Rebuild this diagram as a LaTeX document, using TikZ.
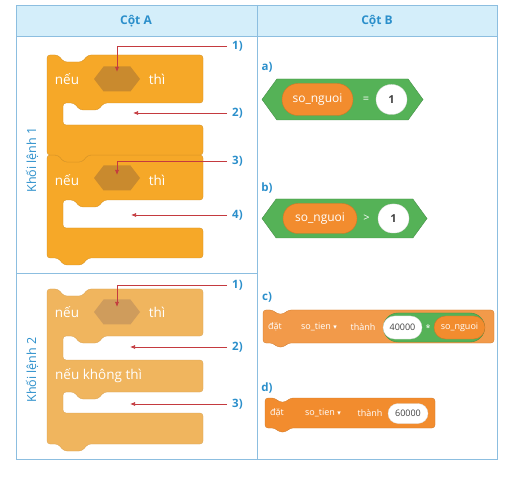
\documentclass[tikz,border=0pt]{standalone}
\usepackage{fontspec}
\setmainfont{Open Sans}
\newfontfamily\symfont{DejaVu Sans}
\usepackage{xcolor}
\usetikzlibrary{arrows.meta, positioning, shapes.symbols, shapes.misc}

\definecolor{hdrblue}{HTML}{D4EEFA}
\definecolor{lineblue}{HTML}{8CBEE0}
\definecolor{txtblue}{HTML}{2B8FCB}
\definecolor{ctrl}{HTML}{F6A828}
\definecolor{ctrlfade}{HTML}{F0B55E}
\definecolor{ctrldark}{HTML}{C98A2E}
\definecolor{ctrldarkfade}{HTML}{CF9C5C}
\definecolor{dataorg}{HTML}{F28C2E}
\definecolor{dataorgfade}{HTML}{F29A4A}
\definecolor{opgreen}{HTML}{55B257}
\definecolor{ptrred}{HTML}{C43A3F}

\tikzset{
  tableline/.style={draw=lineblue, line width=0.9pt},
  colhead/.style={font=\fontsize{12}{14}\selectfont\bfseries, text=txtblue},
  rowlabel/.style={font=\fontsize{12.5}{14}\selectfont, text=txtblue, rotate=90},
  numlabel/.style={font=\fontsize{11.5}{13}\selectfont\bfseries, text=txtblue,
                   anchor=west, inner xsep=5pt, inner ysep=1pt},
  optlabel/.style={font=\fontsize{11.5}{13}\selectfont\bfseries, text=txtblue, anchor=center},
  ctrlblock/.style={fill=ctrl, draw=ctrl!85!black, line width=0.3pt, rounded corners=3pt},
  datablock/.style={fill=dataorg, draw=dataorg!85!black, line width=0.3pt, rounded corners=3pt},
  blocktext/.style={font=\fontsize{13.5}{15}\selectfont, text=white, inner sep=0pt},
  smalltext/.style={font=\fontsize{9}{11}\selectfont, text=white, inner sep=0pt},
  condslot/.style={signal, signal to=east and west, signal pointer angle=105,
                   fill=ctrldark, minimum width=46pt, minimum height=25pt, inner sep=0pt},
  condhex/.style={signal, signal to=east and west, signal pointer angle=108,
                  fill=opgreen, draw=opgreen!80!black, line width=0.4pt, inner sep=0pt},
  varpill/.style={rounded rectangle, fill=dataorg, draw=dataorg!85!black, line width=0.4pt,
                  text=white, inner sep=0pt},
  numpill/.style={rounded rectangle, fill=white, draw=black!15, line width=0.3pt,
                  text=black!75, inner sep=0pt},
  pointer/.style={draw=ptrred, line width=0.75pt, -{Latex[length=5pt, width=4pt]}},
}

\begin{document}
\begin{tikzpicture}[x=1pt, y=-1pt]
  \useasboundingbox (0,0) rectangle (514,478);

  % Table
  \fill[hdrblue] (16,5) rectangle (497,36);
  \draw[tableline] (16,5) rectangle (497,459);
  \draw[tableline] (16,36) -- (497,36);
  \draw[tableline] (257,5) -- (257,459);
  \draw[tableline] (16,273) -- (257,273);
  \node[colhead] (colA) at (136,21) {Cột A};
  \node[colhead] (colB) at (377,21) {Cột B};
  \node[rowlabel] (rowA) at (32,160) {Khối lệnh 1};
  \node[rowlabel] (rowB) at (32,370) {Khối lệnh 2};

  % Khoi lenh 1: two stacked if blocks (lower one first)
  \draw[ctrlblock] (47,155) -- (58,155) -- (64,162) -- (82,162) -- (88,155) -- (203,155)
    -- (203,200) -- (104,200) -- (98,207) -- (80,207) -- (74,200) -- (63,200)
    -- (63,228) -- (203,228) -- (203,258) -- (88,258) -- (82,265) -- (64,265)
    -- (58,258) -- (47,258) -- cycle;
  \draw[ctrlblock] (47,55) -- (58,55) -- (64,62) -- (82,62) -- (88,55) -- (203,55)
    -- (203,103) -- (104,103) -- (98,110) -- (80,110) -- (74,103) -- (63,103)
    -- (63,125) -- (203,125) -- (203,155) -- (88,155) -- (82,162) -- (64,162)
    -- (58,155) -- (47,155) -- cycle;
  \node[condslot] (hexA) at (117,79) {};
  \node[blocktext] (ifA) at (67,79) {nếu};
  \node[blocktext] (thenA) at (157,79) {thì};
  \node[condslot] (hexB) at (117,178) {};
  \node[blocktext] (ifB) at (67,180) {nếu};
  \node[blocktext] (thenB) at (157,180) {thì};

  % Khoi lenh 2: if / else
  \draw[ctrlblock, fill=ctrlfade, draw=ctrlfade!90!black] (47,289) -- (58,289) -- (64,296)
    -- (82,296) -- (88,289) -- (203,289)
    -- (203,336) -- (104,336) -- (98,343) -- (80,343) -- (74,336) -- (63,336)
    -- (63,360) -- (203,360)
    -- (203,392) -- (104,392) -- (98,399) -- (80,399) -- (74,392) -- (63,392)
    -- (63,413) -- (203,413) -- (203,444) -- (88,444) -- (82,451) -- (64,451)
    -- (58,444) -- (47,444) -- cycle;
  \node[condslot, fill=ctrldarkfade] (hexC) at (117,312) {};
  \node[blocktext] (ifC) at (67,312) {nếu};
  \node[blocktext] (thenC) at (157,312) {thì};
  \node[blocktext, anchor=west] (elseC) at (55,376) {nếu không thì};

  % Pointers, Khoi lenh 1
  \node[numlabel] (p1) at (227,46) {1)};
  \node[numlabel] (p2) at (227,113) {2)};
  \node[numlabel] (p3) at (227,161) {3)};
  \node[numlabel] (p4) at (227,215) {4)};
  \coordinate (slotA) at (133,113);
  \coordinate (slotB) at (131,215);
  \draw[pointer] (p1.west) -| ([yshift=7pt]hexA.center);
  \draw[pointer] (p2.west) -- (slotA);
  \draw[pointer] (p3.west) -| ([yshift=3pt]hexB.center);
  \draw[pointer] (p4.west) -- (slotB);

  % Pointers, Khoi lenh 2
  \node[numlabel] (q1) at (227,285) {1)};
  \node[numlabel] (q2) at (227,347) {2)};
  \node[numlabel] (q3) at (227,404) {3)};
  \coordinate (slotC) at (130,347);
  \coordinate (slotD) at (130,404);
  \draw[pointer] (q1.west) -| ([yshift=5pt]hexC.center);
  \draw[pointer] (q2.west) -- (slotC);
  \draw[pointer] (q3.west) -- (slotD);

  % a)
  \node[optlabel] (optA) at (267,67) {a)};
  \node[condhex, minimum width=161pt, minimum height=41pt] (eqA) at (342.5,99.5) {};
  \node[varpill, minimum width=71pt, minimum height=32pt, blocktext, font=\fontsize{12}{14}\selectfont] (varA) at (317.5,99.5) {so\_nguoi};
  \node[smalltext, font=\fontsize{11}{13}\selectfont] (opA) at (366,99.5) {=};
  \node[numpill, minimum width=31pt, minimum height=30pt, font=\fontsize{11}{13}\selectfont\bfseries] (numA) at (391.5,99.5) {1};

  % b)
  \node[optlabel] (optB) at (267,188) {b)};
  \node[condhex, minimum width=165pt, minimum height=39pt] (gtB) at (344.5,218.5) {};
  \node[varpill, minimum width=74pt, minimum height=30pt, blocktext, font=\fontsize{12}{14}\selectfont] (varB) at (320,218.5) {so\_nguoi};
  \node[smalltext, font=\fontsize{11}{13}\selectfont] (opB) at (366.5,218.5) {>};
  \node[numpill, minimum width=31pt, minimum height=29pt, font=\fontsize{11}{13}\selectfont\bfseries] (numB) at (393.5,218.5) {1};

  % c)
  \node[optlabel] (optC) at (267,297) {c)};
  \draw[datablock, fill=dataorgfade] (263,310) -- (273,310) -- (277,314) -- (284,314) -- (288,310)
    -- (494,310) -- (494,343) -- (288,343) -- (284,347) -- (277,347) -- (273,343)
    -- (263,343) -- cycle;
  \node[smalltext] (setC) at (275,327) {đặt};
  \node[smalltext] (varNameC) at (319,327) {so\_tien {\symfont\fontsize{7}{9}\selectfont ▾}};
  \node[smalltext] (toC) at (363,327) {thành};
  \node[rounded rectangle, fill=opgreen, draw=opgreen!80!black, line width=0.4pt,
        minimum width=108pt, minimum height=29pt] (mulC) at (434,327.5) {};
  \node[numpill, minimum width=39pt, minimum height=23pt, font=\fontsize{9}{11}\selectfont] (numC) at (402.5,327.5) {40000};
  \node[smalltext] (opC) at (428,328) {*};
  \node[varpill, minimum width=51pt, minimum height=23pt, smalltext] (varC) at (459.5,327.5) {so\_nguoi};

  % d)
  \node[optlabel] (optD) at (267,388) {d)};
  \draw[datablock] (265,398) -- (275,398) -- (279,402) -- (286,402) -- (290,398)
    -- (435,398) -- (435,428) -- (290,428) -- (286,432) -- (279,432) -- (275,428)
    -- (265,428) -- cycle;
  \node[smalltext] (setD) at (277,413) {đặt};
  \node[smalltext] (varNameD) at (323,413) {so\_tien {\symfont\fontsize{7}{9}\selectfont ▾}};
  \node[smalltext] (toD) at (370,413) {thành};
  \node[numpill, minimum width=40pt, minimum height=20pt, font=\fontsize{9}{11}\selectfont] (numD) at (408,413.5) {60000};

\end{tikzpicture}
\end{document}
